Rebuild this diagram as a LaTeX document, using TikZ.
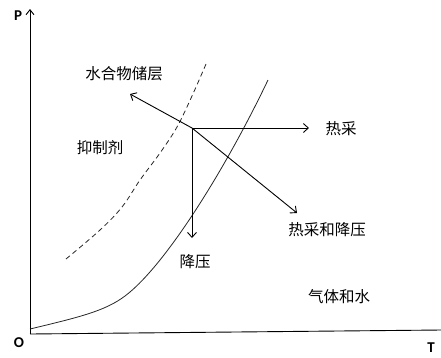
\documentclass[tikz,border=0pt]{standalone}
\usepackage{fontspec}
\setmainfont{Carlito}
\newfontfamily\cjk{Noto Sans CJK SC}
\usetikzlibrary{arrows.meta}
\tikzset{
  lbl/.style={font=\cjk\fontsize{15.5}{16}\selectfont, inner sep=0pt},
  axlbl/.style={font=\fontsize{15}{15}\selectfont\bfseries, inner sep=0pt},
  arr/.style={line width=0.9pt, -{Straight Barb[length=5pt,width=9pt]}},
  axis/.style={line width=0.9pt},
  curve/.style={line width=0.8pt, color=black!85},
}
\begin{document}
\begin{tikzpicture}[x=1pt,y=-1pt]
\useasboundingbox (0,0) rectangle (441,357);
% axes
\coordinate (O) at (30,334);
\coordinate (Ytop) at (30,9);
\coordinate (Xend) at (441,330);
\draw[axis,-{Straight Barb[length=5pt,width=8pt]}] (O) -- (Ytop);
\draw[axis] (O) -- (Xend);
\node[axlbl] (P) at (18,16) {P};
\node[axlbl] (Olbl) at (19,343) {O};
\node[axlbl] (T) at (431,348) {T};
% solid curve
\coordinate (c0) at (30,329);
\coordinate (c1) at (125,296);
\coordinate (c2) at (268,80);
\draw[curve] (c0) .. controls (80,317) and (105,311) .. (c1)
             .. controls (165,266) and (225,170) .. (c2);
% dashed curve
\draw[curve, dash pattern=on 5pt off 3.5pt] plot[smooth, tension=0.6] coordinates {(66,259) (100,230) (122,207) (140,180) (160,153) (177,127) (192,96) (206,64)};
% arrows
\coordinate (S) at (192,128);
\coordinate (eUL) at (130,94);
\coordinate (eR) at (309,128);
\coordinate (eD) at (192,238);
\coordinate (eDR) at (297,213);
\draw[arr] (S) -- (eUL);
\draw[arr] (S) -- (eR);
\draw[arr] (S) -- (eD);
\draw[arr] (S) -- (eDR);
% labels
\node[lbl] (hyd) at (124,74) {水合物储层};
\node[lbl] (inh) at (100,148) {抑制剂};
\node[lbl] (heat) at (341,129) {热采};
\node[lbl] (hd) at (327,230) {热采和降压};
\node[lbl] (dep) at (195,262) {降压};
\node[lbl] (gw) at (339,297) {气体和水};
\end{tikzpicture}
\end{document}
